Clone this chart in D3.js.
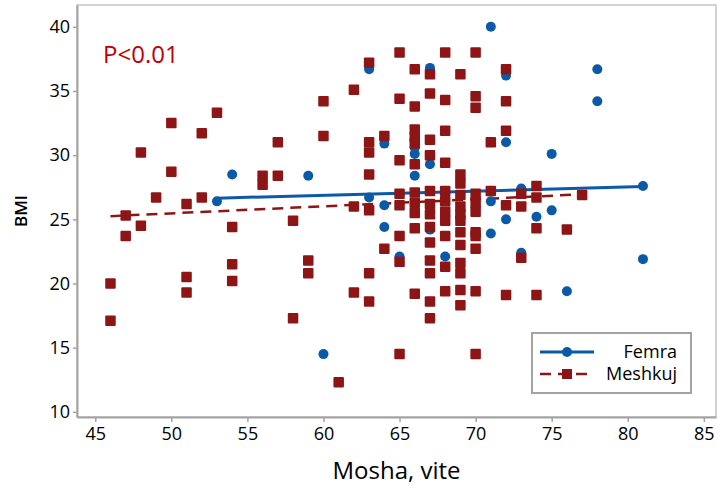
<!DOCTYPE html>
<html>
<head>
<meta charset="utf-8">
<script src="https://cdn.jsdelivr.net/npm/d3@7"></script>
<style>
  html, body { margin: 0; padding: 0; background: #fff; }
  text { font-family: 'Open Sans', 'Noto Sans', sans-serif; }
</style>
</head>
<body>
<div id="chart"></div>
<script>
// BMI by age (years), grouped by age column
const femra = [
    [53, [26.4]], [54, [28.5]], [59, [28.4]], [60, [14.5]],
    [63, [36.7, 26.7]], [64, [30.9, 26.1, 24.4]], [65, [22.1]],
    [66, [30.6, 30.1, 28.4]], [67, [36.8, 29.3, 24.2]], [68, [22.1]],
    [71, [40.0, 26.4, 23.9]], [72, [36.2, 31.0, 25.0]], [73, [27.4, 22.4]],
    [74, [25.2]], [75, [30.1, 25.7]], [76, [19.4]], [78, [36.7, 34.2]],
    [81, [27.6, 21.9]]
];
const meshkuj = [
    [46, [20.0, 17.1]], [47, [25.3, 23.7]], [48, [30.2, 24.5]], [49, [26.7]],
    [50, [32.5, 28.7]], [51, [26.2, 20.5, 19.3]], [52, [31.7, 26.7]], [53, [33.3]],
    [54, [24.4, 21.5, 20.2]], [56, [28.4, 27.7]], [57, [31.0, 28.4]],
    [58, [24.9, 17.3]], [59, [21.8, 20.8]], [60, [34.2, 31.5]], [61, [12.3]],
    [62, [35.1, 26.0, 19.3]],
    [63, [37.2, 31.0, 30.2, 28.5, 25.7, 20.8, 18.6]],
    [64, [31.5, 22.7]],
    [65, [38.0, 34.4, 29.6, 27.0, 26.1, 23.7, 21.7, 14.5]],
    [66, [36.7, 33.8, 32.0, 31.4, 30.9, 29.3, 27.1, 26.3, 25.5, 24.3, 19.2]],
    [67, [36.3, 34.8, 31.2, 30.0, 27.2, 26.2, 25.4, 24.4, 23.2, 21.8, 20.8, 18.6, 17.3]],
    [68, [38.0, 34.3, 31.9, 29.4, 27.2, 26.4, 25.6, 24.9, 23.7, 21.3, 19.4]],
    [69, [36.3, 28.5, 27.8, 26.9, 26.0, 25.4, 24.9, 24.0, 23.0, 21.6, 20.8, 19.5, 18.3]],
    [70, [38.0, 34.6, 33.7, 27.0, 26.3, 25.6, 24.0, 23.7, 22.7, 19.4, 14.5]],
    [71, [31.0, 27.2]], [72, [36.7, 34.2, 31.9, 26.1, 19.1]],
    [73, [27.0, 26.0, 22.0]], [74, [27.6, 26.7, 24.3, 19.1]],
    [76, [24.2]], [77, [26.9]]
];
// fitted lines, end points
const femraFit = [[53, 26.65], [81, 27.55]];
const meshkujFit = [[46, 25.25], [77, 26.95]];

const xTicks = [45, 50, 55, 60, 65, 70, 75, 80, 85];
const yTicks = [10, 15, 20, 25, 30, 35, 40];
const seriesNames = ['Femra', 'Meshkuj'];

const blue = '#0b5aa8';
const red = '#8d1515';
const grey = '#a3a3a3';

const width = 718, height = 488;
const plot = { left: 77, top: 5, right: 716, bottom: 417 };

const svg = d3.select('#chart').append('svg')
    .attr('width', width)
    .attr('height', height);

const x = d3.scaleLinear().domain([43.8, 85.8]).range([plot.left, plot.right]);
const y = d3.scaleLinear().domain([9.6, 41.7]).range([plot.bottom, plot.top]);

const flat = (groups) => groups.flatMap(([age, vals]) => vals.map(v => ({ age: age, bmi: v })));

// frame
svg.append('rect')
    .attr('x', plot.left).attr('y', plot.top)
    .attr('width', plot.right - plot.left).attr('height', plot.bottom - plot.top)
    .attr('fill', 'none').attr('stroke', '#c4c4c4').attr('stroke-width', 1.5);

// axes
const xAxis = svg.append('g')
    .attr('transform', 'translate(0,' + plot.bottom + ')')
    .call(d3.axisBottom(x).tickValues(xTicks).tickSize(5).tickSizeOuter(0));
const yAxis = svg.append('g')
    .attr('transform', 'translate(' + plot.left + ',0)')
    .call(d3.axisLeft(y).tickValues(yTicks).tickSize(4).tickSizeOuter(0));

[xAxis, yAxis].forEach(a => {
    a.select('.domain').attr('stroke', grey).attr('stroke-width', 2);
    a.selectAll('.tick line').attr('stroke', grey).attr('stroke-width', 1.5);
    a.selectAll('.tick text')
        .attr('font-family', "'Open Sans', sans-serif")
        .attr('font-size', 18)
        .attr('fill', '#000');
});
xAxis.selectAll('.tick text').attr('y', 10);
yAxis.selectAll('.tick text').attr('x', -7);

// axis titles
svg.append('text')
    .attr('x', (plot.left + plot.right) / 2)
    .attr('y', 479)
    .attr('text-anchor', 'middle')
    .attr('font-size', 24)
    .attr('fill', '#000')
    .text('Mosha, vite');

svg.append('text')
    .attr('transform', 'translate(27,' + ((plot.top + plot.bottom) / 2) + ') rotate(-90)')
    .attr('text-anchor', 'middle')
    .attr('font-size', 17)
    .attr('font-weight', 600)
    .attr('fill', '#000')
    .text('BMI');

// fit lines
const line = d3.line().x(d => x(d[0])).y(d => y(d[1]));
svg.append('path')
    .datum(femraFit)
    .attr('d', line)
    .attr('fill', 'none').attr('stroke', blue).attr('stroke-width', 3);
svg.append('path')
    .datum(meshkujFit)
    .attr('d', line)
    .attr('fill', 'none').attr('stroke', red).attr('stroke-width', 2.5)
    .attr('stroke-dasharray', '11,7');

// points
svg.append('g').selectAll('circle')
    .data(flat(femra))
    .enter().append('circle')
    .attr('cx', d => x(d.age))
    .attr('cy', d => y(d.bmi))
    .attr('r', 5)
    .attr('fill', blue);

const sq = 10.5;
svg.append('g').selectAll('rect')
    .data(flat(meshkuj))
    .enter().append('rect')
    .attr('x', d => x(d.age) - sq / 2)
    .attr('y', d => y(d.bmi) - sq / 2)
    .attr('width', sq).attr('height', sq)
    .attr('rx', 1)
    .attr('fill', red);

// annotation
svg.append('text')
    .attr('x', 103)
    .attr('y', 63)
    .attr('font-size', 24)
    .attr('fill', '#c00000')
    .text('P<0.01');

// legend
const legend = svg.append('g');
legend.append('rect')
    .attr('x', 532).attr('y', 333)
    .attr('width', 159).attr('height', 60)
    .attr('fill', '#fff').attr('stroke', grey).attr('stroke-width', 2);

const legendRows = [
    { name: seriesNames[0], color: blue, dash: null, shape: 'circle', yPos: 352 },
    { name: seriesNames[1], color: red, dash: '11,7', shape: 'square', yPos: 374 }
];
legendRows.forEach(r => {
    legend.append('line')
        .attr('x1', 540).attr('x2', 594)
        .attr('y1', r.yPos).attr('y2', r.yPos)
        .attr('stroke', r.color)
        .attr('stroke-width', r.dash ? 2.5 : 3)
        .attr('stroke-dasharray', r.dash);
    if (r.shape === 'circle') {
        legend.append('circle').attr('cx', 567).attr('cy', r.yPos).attr('r', 5).attr('fill', r.color);
    } else {
        legend.append('rect').attr('x', 562).attr('y', r.yPos - 5).attr('width', 10).attr('height', 10).attr('fill', r.color);
    }
    legend.append('text')
        .attr('x', 677).attr('y', r.yPos + 6)
        .attr('text-anchor', 'end')
        .attr('font-size', 18)
        .attr('fill', '#000')
        .text(r.name);
});
</script>
</body>
</html>
